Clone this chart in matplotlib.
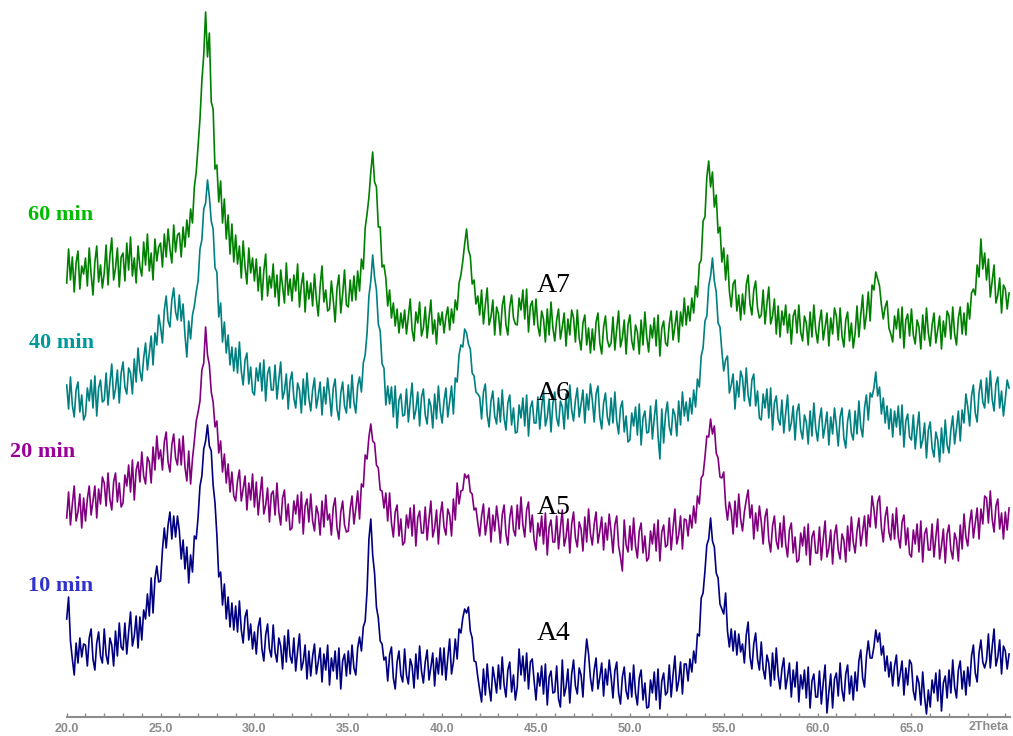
import numpy as np
import matplotlib
matplotlib.use("Agg")
import matplotlib.pyplot as plt
from matplotlib.ticker import MultipleLocator

# scan grid, 2theta in degrees (step 0.1)
two_theta = np.round(np.arange(20.0, 70.25, 0.1), 1)

# stacked intensities (a.u.), one row per degree
a7_60min = [
    434, 468, 437, 460, 425, 454, 466, 428, 451, 443,
    459, 431, 469, 443, 422, 455, 471, 435, 452, 429,
    444, 472, 432, 461, 479, 437, 449, 469, 430, 460,
    464, 436, 474, 447, 480, 441, 459, 434, 471, 450,
    441, 475, 452, 483, 446, 464, 437, 478, 456, 470,
    474, 450, 483, 460, 488, 468, 454, 492, 465, 482,
    484, 460, 490, 470, 497, 480, 508, 494, 530, 545,
    572, 598, 636, 662, 705, 660, 684, 615, 608, 548,
    552, 515, 536, 494, 518, 478, 502, 463, 493, 455,
    482, 453, 471, 439, 476, 450, 433, 469, 444, 459,
    436, 458, 426, 450, 417, 446, 463, 421, 441, 429,
    453, 420, 442, 411, 447, 430, 414, 454, 422, 438,
    416, 442, 426, 453, 410, 432, 444, 405, 436, 418,
    434, 411, 443, 418, 401, 431, 451, 415, 427, 406,
    408, 436, 417, 395, 429, 442, 404, 423, 447, 412,
    410, 437, 416, 441, 417, 446, 426, 458, 448, 489,
    503, 520, 545, 565, 535, 530, 490, 490, 450, 452,
    439, 411, 427, 399, 414, 391, 408, 384, 404, 389,
    407, 383, 400, 418, 387, 376, 405, 394, 415, 381,
    389, 410, 379, 399, 417, 383, 397, 373, 404, 392,
    405, 384, 400, 410, 387, 408, 394, 417, 407, 434,
    442, 456, 473, 488, 467, 461, 433, 437, 413, 421,
    402, 427, 393, 412, 429, 392, 400, 417, 382, 410,
    403, 382, 411, 421, 392, 382, 410, 422, 399, 393,
    392, 419, 407, 427, 398, 428, 385, 411, 416, 392,
    418, 391, 381, 406, 398, 375, 408, 382, 415, 389,
    376, 397, 408, 378, 390, 404, 371, 398, 382, 407,
    399, 375, 407, 379, 367, 394, 402, 372, 389, 364,
    388, 367, 395, 404, 374, 363, 390, 401, 377, 370,
    374, 400, 367, 388, 406, 370, 379, 397, 363, 392,
    402, 376, 367, 392, 385, 363, 397, 372, 405, 380,
    365, 392, 379, 399, 371, 402, 361, 389, 396, 374,
    371, 393, 406, 377, 391, 406, 375, 405, 391, 419,
    392, 411, 396, 419, 404, 431, 420, 453, 457, 496,
    500, 540, 556, 530, 545, 510, 522, 484, 490, 455,
    469, 437, 462, 426, 410, 433, 437, 406, 422, 397,
    423, 403, 432, 442, 413, 402, 427, 436, 409, 399,
    402, 427, 393, 413, 430, 393, 401, 418, 383, 411,
    380, 406, 392, 412, 384, 403, 373, 401, 407, 384,
    412, 385, 376, 401, 394, 372, 405, 380, 412, 387,
    374, 395, 407, 377, 390, 404, 371, 399, 383, 409,
    401, 377, 409, 381, 370, 397, 405, 376, 394, 369,
    384, 411, 380, 402, 422, 388, 402, 425, 396, 432,
    427, 445, 438, 431, 412, 398, 410, 416, 389, 383,
    375, 401, 388, 408, 379, 410, 369, 397, 403, 381,
    408, 382, 373, 397, 390, 368, 402, 377, 409, 384,
    371, 392, 404, 374, 387, 401, 368, 396, 380, 406,
    401, 378, 410, 383, 372, 399, 410, 383, 404, 382,
    414, 398, 424, 428, 422, 452, 440, 478, 448, 464,
    437, 458, 420, 436, 452, 414, 422, 439, 404, 432,
    428, 408, 424,
]

a6_40min = [
    332, 308, 340, 312, 300, 327, 335, 305, 322, 297,
    302, 329, 316, 337, 309, 341, 301, 329, 337, 315,
    317, 344, 312, 334, 353, 318, 328, 347, 314, 344,
    355, 330, 323, 349, 344, 323, 358, 335, 369, 346,
    336, 359, 374, 347, 364, 381, 352, 384, 372, 402,
    390, 374, 407, 421, 396, 390, 417, 429, 405, 397,
    422, 396, 413, 382, 360, 396, 378, 402, 411, 425,
    436, 468, 477, 508, 514, 537, 520, 496, 488, 449,
    445, 400, 414, 375, 395, 364, 382, 352, 370, 346,
    369, 344, 375, 346, 332, 357, 364, 333, 350, 325,
    322, 349, 336, 354, 326, 357, 316, 343, 350, 327,
    327, 352, 318, 338, 355, 318, 326, 343, 308, 336,
    345, 319, 309, 334, 327, 304, 338, 312, 344, 319,
    306, 327, 339, 309, 321, 335, 302, 330, 313, 339,
    322, 301, 329, 338, 308, 297, 324, 335, 311, 304,
    332, 309, 342, 315, 304, 331, 340, 325, 354, 362,
    384, 421, 436, 462, 440, 427, 393, 386, 353, 349,
    312, 331, 313, 330, 300, 331, 289, 317, 323, 301,
    302, 328, 295, 316, 334, 298, 307, 325, 291, 320,
    328, 302, 293, 318, 311, 289, 323, 298, 331, 306,
    294, 316, 329, 300, 315, 331, 303, 339, 335, 362,
    372, 370, 388, 384, 373, 368, 344, 341, 325, 323,
    320, 298, 325, 333, 302, 290, 316, 326, 301, 293,
    319, 295, 327, 299, 287, 314, 322, 292, 309, 284,
    285, 312, 299, 319, 291, 322, 281, 309, 316, 294,
    294, 320, 288, 309, 327, 291, 300, 318, 285, 314,
    325, 299, 291, 316, 310, 288, 323, 298, 332, 307,
    296, 317, 329, 300, 313, 327, 294, 323, 307, 333,
    317, 295, 323, 331, 300, 288, 314, 324, 300, 292,
    319, 294, 325, 296, 283, 309, 316, 285, 301, 275,
    277, 304, 291, 310, 282, 313, 272, 299, 306, 284,
    285, 311, 278, 299, 317, 281, 258, 308, 274, 303,
    315, 290, 282, 308, 302, 281, 316, 292, 325, 301,
    315, 296, 319, 303, 327, 310, 338, 330, 361, 369,
    396, 401, 431, 441, 459, 436, 425, 394, 390, 366,
    346, 357, 361, 324, 332, 343, 308, 336, 320, 346,
    339, 316, 349, 322, 311, 337, 343, 311, 326, 299,
    297, 323, 309, 328, 299, 329, 287, 314, 321, 298,
    292, 317, 284, 304, 322, 286, 294, 311, 277, 305,
    313, 287, 278, 302, 295, 273, 306, 281, 314, 289,
    276, 297, 309, 279, 291, 305, 272, 300, 283, 309,
    292, 271, 300, 309, 279, 269, 296, 307, 284, 277,
    306, 283, 316, 290, 280, 309, 322, 297, 324, 320,
    329, 345, 321, 330, 303, 319, 294, 311, 288, 308,
    280, 306, 290, 311, 282, 312, 270, 296, 303, 280,
    277, 302, 268, 288, 305, 269, 277, 294, 259, 287,
    295, 269, 260, 285, 277, 255, 289, 264, 297, 272,
    264, 287, 301, 273, 289, 306, 276, 307, 294, 323,
    310, 291, 321, 332, 304, 295, 324, 337, 315, 309,
    339, 314, 346, 318, 306, 333, 340, 309, 326, 301,
    318, 337, 329,
]

a5_20min = [
    199, 225, 192, 213, 231, 196, 205, 223, 189, 219,
    196, 218, 231, 202, 216, 231, 199, 228, 213, 240,
    234, 211, 244, 218, 207, 235, 244, 215, 234, 210,
    214, 242, 231, 252, 225, 257, 217, 247, 255, 235,
    265, 241, 233, 260, 255, 234, 270, 247, 281, 258,
    267, 247, 275, 285, 255, 245, 272, 283, 259, 252,
    278, 252, 281, 250, 236, 266, 233, 258, 276, 296,
    305, 316, 347, 354, 390, 362, 352, 325, 315, 290,
    296, 264, 276, 245, 263, 234, 253, 225, 245, 221,
    216, 236, 247, 216, 228, 241, 207, 234, 217, 243,
    210, 235, 202, 222, 240, 203, 212, 229, 195, 223,
    226, 202, 234, 205, 192, 219, 227, 196, 213, 187,
    189, 216, 203, 222, 194, 225, 183, 211, 218, 195,
    223, 196, 186, 211, 203, 182, 216, 190, 222, 197,
    203, 182, 210, 219, 189, 178, 205, 216, 192, 185,
    186, 208, 221, 193, 208, 226, 198, 233, 230, 262,
    258, 280, 293, 276, 274, 252, 249, 227, 226, 209,
    224, 196, 224, 194, 180, 205, 212, 181, 198, 172,
    175, 202, 189, 209, 181, 212, 171, 199, 206, 184,
    184, 210, 177, 198, 216, 180, 189, 207, 173, 202,
    215, 190, 182, 208, 202, 181, 218, 197, 234, 213,
    226, 227, 243, 239, 242, 225, 223, 207, 209, 194,
    181, 201, 213, 182, 195, 209, 175, 202, 186, 211,
    195, 174, 202, 212, 183, 172, 199, 211, 187, 181,
    212, 188, 220, 192, 180, 207, 215, 185, 202, 177,
    167, 194, 181, 201, 173, 204, 162, 190, 197, 175,
    175, 201, 168, 189, 207, 171, 180, 198, 164, 193,
    205, 179, 170, 195, 188, 166, 200, 175, 208, 183,
    172, 193, 205, 174, 186, 200, 167, 194, 177, 203,
    185, 164, 192, 201, 171, 160, 146, 197, 172, 165,
    191, 167, 199, 171, 159, 186, 194, 164, 181, 156,
    159, 186, 173, 193, 166, 197, 156, 185, 192, 170,
    172, 199, 167, 189, 208, 173, 182, 201, 168, 198,
    197, 181, 202, 189, 211, 194, 221, 213, 239, 242,
    260, 281, 280, 298, 283, 291, 264, 259, 240, 239,
    245, 212, 197, 215, 206, 183, 216, 190, 223, 198,
    186, 205, 217, 227, 199, 212, 178, 204, 186, 211,
    195, 173, 200, 208, 177, 165, 191, 201, 176, 168,
    194, 170, 201, 173, 160, 187, 194, 164, 180, 155,
    157, 184, 171, 190, 162, 193, 152, 180, 186, 164,
    164, 190, 157, 178, 196, 160, 169, 187, 153, 182,
    192, 167, 158, 183, 177, 155, 191, 166, 200, 175,
    164, 186, 199, 171, 185, 201, 171, 202, 190, 221,
    208, 189, 215, 221, 189, 175, 200, 210, 185, 177,
    203, 178, 209, 180, 169, 195, 202, 172, 189, 163,
    160, 187, 173, 193, 165, 196, 155, 183, 189, 167,
    167, 193, 160, 180, 198, 158, 171, 188, 154, 183,
    192, 167, 158, 184, 177, 156, 192, 168, 203, 180,
    171, 194, 207, 179, 194, 209, 178, 208, 193, 221,
    219, 194, 226, 198, 185, 211, 218, 188, 204, 178,
    205, 187, 209,
]

a4_10min = [
    98, 120, 76, 58, 42, 74, 54, 79, 60, 73,
    72, 51, 79, 88, 58, 47, 74, 85, 61, 54,
    88, 62, 53, 79, 72, 51, 86, 61, 94, 70,
    67, 94, 63, 85, 105, 71, 81, 101, 69, 100,
    77, 107, 98, 123, 101, 139, 104, 138, 151, 135,
    136, 167, 189, 169, 192, 205, 178, 201, 180, 201,
    186, 158, 177, 148, 170, 134, 162, 145, 181, 178,
    200, 231, 241, 268, 276, 292, 271, 266, 232, 214,
    182, 140, 145, 112, 133, 98, 120, 90, 114, 87,
    111, 85, 116, 87, 74, 100, 107, 77, 93, 68,
    85, 63, 90, 99, 68, 56, 82, 93, 68, 60,
    92, 65, 55, 79, 71, 48, 81, 55, 87, 61,
    54, 79, 46, 66, 83, 47, 55, 72, 38, 66,
    41, 61, 73, 43, 55, 69, 35, 63, 47, 72,
    32, 59, 46, 66, 38, 69, 28, 56, 63, 41,
    66, 43, 72, 49, 42, 69, 80, 66, 90, 96,
    126, 178, 198, 162, 144, 110, 99, 76, 73, 57,
    60, 36, 62, 70, 39, 28, 55, 66, 42, 35,
    68, 42, 33, 58, 51, 29, 63, 38, 71, 46,
    34, 55, 67, 37, 50, 64, 31, 59, 43, 69,
    42, 69, 37, 59, 78, 43, 55, 78, 58, 88,
    84, 99, 108, 104, 110, 86, 79, 56, 55, 40,
    27, 15, 48, 22, 53, 30, 16, 50, 38, 24,
    52, 28, 60, 32, 20, 47, 55, 25, 42, 17,
    30, 68, 42, 61, 36, 64, 28, 55, 58, 36,
    17, 44, 31, 51, 23, 53, 12, 40, 46, 24,
    25, 51, 18, 10, 57, 21, 30, 48, 14, 43,
    57, 31, 23, 49, 42, 20, 55, 78, 63, 39,
    26, 47, 59, 28, 40, 54, 21, 48, 32, 57,
    40, 19, 46, 55, 24, 13, 40, 50, 26, 18,
    44, 20, 52, 24, 12, 39, 47, 17, 34, 9,
    10, 37, 24, 45, 17, 48, 8, 36, 44, 22,
    25, 52, 20, 42, 61, 26, 36, 55, 23, 53,
    53, 36, 58, 45, 66, 54, 83, 81, 119, 124,
    146, 172, 178, 199, 176, 170, 144, 139, 113, 108,
    103, 124, 86, 70, 88, 66, 86, 62, 83, 65,
    73, 54, 82, 95, 60, 48, 73, 84, 58, 47,
    75, 48, 38, 62, 54, 31, 64, 37, 69, 42,
    28, 48, 59, 28, 40, 54, 20, 47, 30, 55,
    15, 42, 28, 47, 19, 50, 9, 36, 43, 20,
    20, 46, 13, 34, 52, 4, 25, 43, 9, 38,
    44, 21, 54, 27, 16, 43, 52, 23, 41, 17,
    45, 26, 56, 67, 39, 30, 60, 76, 59, 59,
    70, 87, 75, 84, 62, 71, 46, 61, 40, 55,
    31, 51, 62, 31, 43, 56, 22, 49, 32, 57,
    53, 26, 17, 41, 34, 12, 45, 20, 3, 27,
    10, 37, 24, 44, 16, 47, 6, 34, 41, 19,
    47, 24, 57, 30, 19, 47, 56, 28, 46, 22,
    50, 31, 61, 72, 44, 35, 64, 77, 55, 49,
    57, 83, 49, 70, 88, 51, 60, 77, 43, 71,
    66, 48, 63,
]

series = [a7_60min, a6_40min, a5_20min, a4_10min]
sample_names = ["A7", "A6", "A5", "A4"]
times = ["60 min", "40 min", "20 min", "10 min"]
line_colors = ["#008000", "#008080", "#800080", "#000080"]
time_colors = ["#00bb00", "#009999", "#990099", "#3333cc"]
# label anchors (2theta, intensity) for sample names
name_pos = [(45.05, 432), (45.05, 324), (45.05, 209), (45.05, 84)]
# time labels in figure pixels (x centre, y from top)
time_pos = [(61, 215), (61, 343), (43, 452), (61, 586)]

W, H = 1013, 736
fig = plt.figure(figsize=(W / 100, H / 100), dpi=100)
ax = fig.add_axes([66.7 / W, (H - 717) / H, 943.3 / W, 717 / H])

for y, c in zip(series, line_colors):
    ax.plot(two_theta, y, color=c, lw=1.2, clip_on=False)

for name, (px, py) in zip(sample_names, name_pos):
    ax.text(px, py, name, fontsize=20, family="Liberation Serif",
            ha="left", va="center", color="black")

for t, c, (px, py) in zip(times, time_colors, time_pos):
    fig.text(px / W, 1 - py / H, t, fontsize=16, family="Liberation Serif",
             fontweight="bold", ha="center", va="center", color=c)

ax.set_xlim(20, 70.25)
ax.set_ylim(0, 717)
for s in ["top", "right", "left"]:
    ax.spines[s].set_visible(False)
ax.spines["bottom"].set_color("#8c8c8c")
ax.spines["bottom"].set_linewidth(1.5)
ax.set_yticks([])

ticks = [20, 25, 30, 35, 40, 45, 50, 55, 60, 65]
ax.set_xticks(ticks)
ax.set_xticklabels([f"{t:.1f}" for t in ticks])
ax.xaxis.set_minor_locator(MultipleLocator(1))
ax.tick_params(axis="x", which="both", direction="in", length=3, width=1,
               color="#8c8c8c", labelcolor="#8c8c8c", pad=4)
for lab in ax.get_xticklabels():
    lab.set_family("Liberation Sans")
    lab.set_fontweight("bold")
    lab.set_fontsize(9)
ax.text(69.1, -4, "2Theta", transform=ax.transData, ha="center", va="top",
        family="Liberation Sans", fontweight="bold", fontsize=9,
        color="#8c8c8c", clip_on=False)

fig.savefig("out.png", dpi=100)
